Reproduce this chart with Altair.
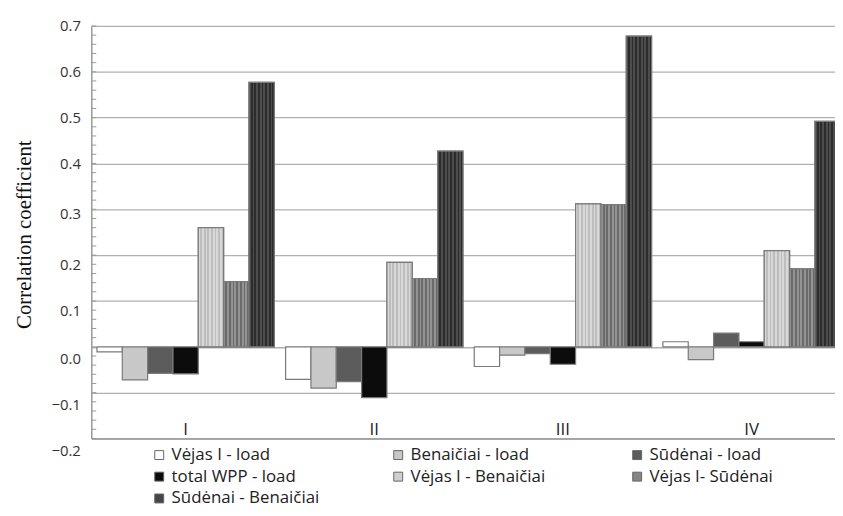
import altair as alt
import pandas as pd

groups = ["I", "II", "III", "IV"]
series = ["Vėjas I - load", "Benaičiai - load", "Sūdėnai - load", "total WPP - load",
          "Vėjas I - Benaičiai", "Vėjas I- Sūdėnai", "Sūdėnai - Benaičiai"]

vejas_load = [-0.011, -0.071, -0.043, 0.011]
benaiciai_load = [-0.072, -0.090, -0.018, -0.028]
sudenai_load = [-0.058, -0.076, -0.015, 0.030]
total_load = [-0.059, -0.111, -0.038, 0.011]
vejas_benaiciai = [0.260, 0.184, 0.312, 0.210]
vejas_sudenai = [0.142, 0.149, 0.310, 0.170]
sudenai_benaiciai = [0.577, 0.427, 0.678, 0.492]

y_ticks = [-0.2, -0.1, 0.0, 0.1, 0.2, 0.3, 0.4, 0.5, 0.6, 0.7]
minor_ticks = [round(-0.2 + 0.02 * i, 2) for i in range(46)]

colors = ["#ffffff", "#c8c8c8", "#5c5c5c", "#0c0c0c", "#cfcfcf", "#858585", "#454545"]

all_vals = [vejas_load, benaiciai_load, sudenai_load, total_load,
            vejas_benaiciai, vejas_sudenai, sudenai_benaiciai]
rows = []
for s, vals in zip(series, all_vals):
    for g, v in zip(groups, vals):
        rows.append({"group": g, "series": s, "value": v})
df = pd.DataFrame(rows)


def stripes(c1, c2, n=14):
    stops = []
    for i in range(n):
        c = c1 if i % 2 == 0 else c2
        stops.append({"offset": i / n, "color": c})
        stops.append({"offset": (i + 1) / n, "color": c})
    return {"gradient": "linear", "x1": 0, "x2": 1, "y1": 0, "y2": 0, "stops": stops}


stripe_styles = {
    "Vėjas I - Benaičiai": ("#d8d8d8", "#bdbdbd"),
    "Vėjas I- Sūdėnai": ("#939393", "#6a6a6a"),
    "Sūdėnai - Benaičiai": ("#4d4d4d", "#2c2c2c"),
}

label_shift = {
    "condition": [
        {"test": "datum.value < 0.05", "value": 12},
        {"test": "datum.value < 0.15", "value": 10},
        {"test": "datum.value < 0.25", "value": 9},
        {"test": "datum.value < 0.35", "value": 4},
    ],
    "value": 0,
}

x_enc = alt.X("group:N", sort=groups,
              scale=alt.Scale(domain=groups, range=[0, 761], paddingInner=0.06, paddingOuter=0.03),
              axis=alt.Axis(title=None, ticks=False, tickSize=0, labelPadding=-9,
                            labelBaseline="middle", labelAngle=0, domainColor="#999999",
                            domainWidth=1.5, labelFontSize=17, labelFont="Open Sans",
                            labelColor="#222222", grid=False))
xo_enc = alt.XOffset("series:N", sort=series,
                     scale=alt.Scale(domain=series, paddingInner=0, paddingOuter=0))
y_enc = alt.Y("value:Q",
              scale=alt.Scale(domain=[-0.2, 0.7], nice=False, zero=False),
              axis=alt.Axis(values=y_ticks, format=".1f", title="Correlation coefficient",
                            titleFont="Liberation Serif", titleFontSize=21,
                            titleFontWeight="normal", titleColor="#111111",
                            titleX=-67, titleY=210, titleBaseline="middle",
                            ticks=False, tickSize=0, labelPadding=11,
                            labelOffset=label_shift,
                            labelFont="Open Sans", labelFontSize=15, labelColor="#333333",
                            domainColor="#999999", domainWidth=1.5,
                            gridColor="#b0b0b0", gridWidth=1.3))

base = alt.Chart(df).mark_bar(stroke="#7a7a7a", strokeWidth=1.2).encode(
    x=x_enc, xOffset=xo_enc, y=y_enc, y2=alt.datum(0),
    color=alt.Color("series:N", sort=series,
                    scale=alt.Scale(domain=series, range=colors),
                    legend=alt.Legend(title=None, orient="none", legendX=60, legendY=424,
                                      direction="horizontal",
                                      columns=3, gridAlign="all", columnPadding=70,
                                      rowPadding=4, symbolType="square", symbolSize=81,
                                      symbolStrokeColor="#666666", symbolStrokeWidth=1,
                                      labelFont="Open Sans", labelFontSize=17,
                                      labelColor="#222222", labelLimit=400, labelOffset=4)),
)

layers = [base]
for name, (c1, c2) in stripe_styles.items():
    layers.append(
        alt.Chart(df).transform_filter(alt.datum.series == name)
        .mark_bar(fill=stripes(c1, c2), stroke="#7a7a7a", strokeWidth=1.2)
        .encode(x=x_enc, xOffset=xo_enc, y=y_enc, y2=alt.datum(0))
    )

ticks_df = pd.DataFrame({"v": minor_ticks})
minor = alt.Chart(ticks_df).mark_rule(color="#999999", strokeWidth=1).encode(
    y=alt.Y("v:Q", scale=alt.Scale(domain=[-0.2, 0.7], nice=False, zero=False)),
    x=alt.value(0), x2=alt.value(5),
)
layers.append(minor)

chart = alt.layer(*layers).properties(
    width=750, height=416,
    autosize=alt.AutoSizeParams(type="none"),
    padding={"left": 84, "top": 16, "right": 0, "bottom": 68},
    background="white",
).configure_view(stroke=None)

chart.save("out.html", embed_options={"renderer": "svg", "actions": False})
